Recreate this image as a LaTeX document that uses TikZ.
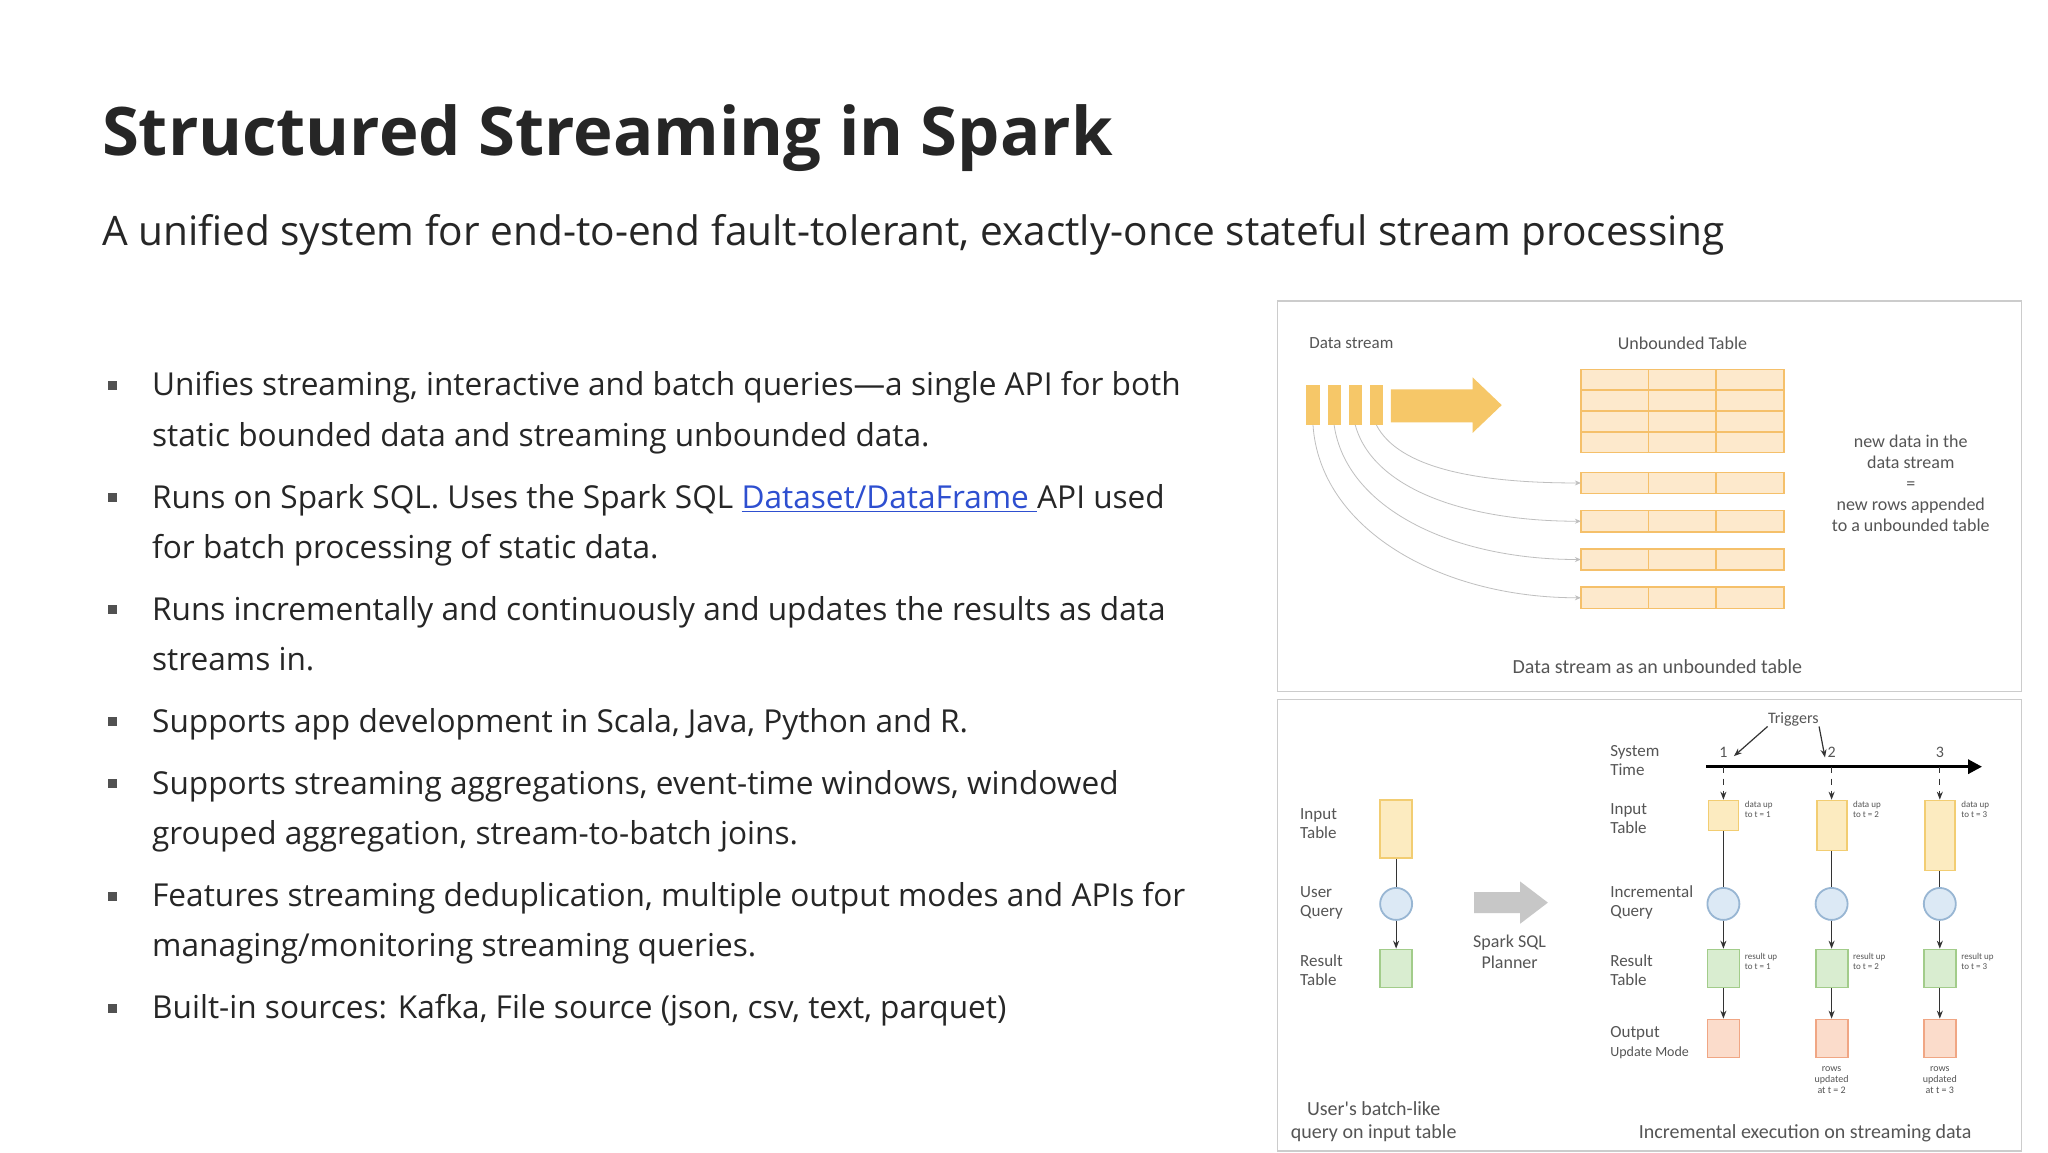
\documentclass[tikz,border=0pt]{standalone}
\usepackage{fontspec}
\setmainfont{Open Sans}
\newfontfamily\dg{Carlito}
\usetikzlibrary{arrows.meta}
\definecolor{txt}{HTML}{262626}
\definecolor{lnk}{HTML}{2E4FD0}
\definecolor{org}{HTML}{F6C768}
\definecolor{tfill}{HTML}{FDE9CC}
\definecolor{tline}{HTML}{F5C06A}
\definecolor{yf}{HTML}{FCEBC0}\definecolor{ys}{HTML}{F2CD72}
\definecolor{bf}{HTML}{DCE9F5}\definecolor{bs}{HTML}{98B6D3}
\definecolor{gf}{HTML}{D9EDD0}\definecolor{gs}{HTML}{A2CC8A}
\definecolor{of}{HTML}{FBDCCB}\definecolor{os}{HTML}{F0A684}
\definecolor{dgray}{HTML}{555555}
\begin{document}
\begin{tikzpicture}[x=0.6598pt,y=-0.6598pt,
  bl/.style={anchor=base west,text=txt,font=\fontsize{15.8}{19}\selectfont,inner sep=0},
  bul/.style={anchor=center,fill=txt!80,minimum size=4.5pt,inner sep=0},
  dl/.style={font=\dg\fontsize{8.5}{9.5}\selectfont,text=dgray,align=left,anchor=west,inner sep=0},
  dc/.style={font=\dg\fontsize{9}{10.5}\selectfont,text=dgray,align=center,inner sep=0},
  sm/.style={font=\dg\fontsize{4.5}{5}\selectfont,text=dgray,align=left,anchor=north west,inner sep=0},
  sml/.style={font=\dg\fontsize{5}{5.5}\selectfont,text=dgray,align=center,anchor=north,inner sep=0},
  capt/.style={font=\dg\fontsize{10}{11.5}\selectfont,text=dgray,align=center,inner sep=0},
  ybox/.style={draw=ys,fill=yf,line width=0.9pt},
  gbox/.style={draw=gs,fill=gf,line width=0.9pt},
  obox/.style={draw=os,fill=of,line width=0.9pt},
  circ/.style={circle,draw=bs,fill=bf,line width=0.9pt,minimum size=16pt,inner sep=0},
  tab/.style={draw=tline,fill=tfill,line width=0.8pt},
  va/.style={-{Stealth[length=4pt,width=3pt]},line width=0.6pt,draw=black!80},
  ca/.style={-{Stealth[length=3pt,width=2.5pt]},line width=0.4pt,draw=black!25}
]
\useasboundingbox[fill=white] (0,0) rectangle (1552,873);
% title
\node[anchor=base west,inner sep=0,text=txt,font=\fontsize{33.5}{40}\selectfont\bfseries] (title) at (77,118) {Structured Streaming in Spark};
\node[anchor=base west,inner sep=0,text=txt,font=\fontsize{20.3}{24}\selectfont] (sub) at (77,186) {A unified system for end-to-end fault-tolerant, exactly-once stateful stream processing};
% bullets
\foreach \y/\n in {300/1,385/2,470/3,555/4,602/5,687/6,772/7}{\node[bul] (b\n) at (85,\y-8) {};}
\node[bl] (t1a) at (115,300) {Unifies streaming, interactive and batch queries---a single API for both};
\node[bl] (t1b) at (115,338) {static bounded data and streaming unbounded data.};
\node[bl] (t2a) at (115,385) {Runs on Spark SQL. Uses the Spark SQL \textcolor{lnk}{\underline{Dataset/DataFrame\ }}API used};
\node[bl] (t2b) at (115,423) {for batch processing of static data.};
\node[bl] (t3a) at (115,470) {Runs incrementally and continuously and updates the results as data};
\node[bl] (t3b) at (115,508) {streams in.};
\node[bl] (t4a) at (115,555) {Supports app development in Scala, Java, Python and R.};
\node[bl] (t5a) at (115,602) {Supports streaming aggregations, event-time windows, windowed};
\node[bl] (t5b) at (115,640) {grouped aggregation, stream-to-batch joins.};
\node[bl] (t6a) at (115,687) {Features streaming deduplication, multiple output modes and APIs for};
\node[bl] (t6b) at (115,725) {managing/monitoring streaming queries.};
\node[bl] (t7a) at (115,772) {Built-in sources: Kafka, File source (json, csv, text, parquet)};
% box 1
\draw[black!20,line width=0.8pt] (968,228) rectangle (1532,524);
\node[dl] (ds) at (992,260) {Data stream};
\node[dc] (ut) at (1275,260) {Unbounded Table};
\foreach \i/\x in {1/990,2/1006,3/1022,4/1038}{\fill[org] (\x,292) rectangle (\x+10,322);
  \coordinate (s\i) at (\x+5,322);}
\fill[org] (1054,295) -- (1116,295) -- (1116,286) -- (1138,307) -- (1116,328) -- (1116,320) -- (1054,320) -- cycle;
\foreach \r in {0,1,2,3}{\foreach \c in {0,1,2}{\draw[tab] (1198+\c*51.3,280+\r*15.75) rectangle ++(51.3,15.75);}}
\foreach \r/\y in {1/358,2/387,3/416,4/445}{
  \foreach \c in {0,1,2}{\draw[tab] (1198+\c*51.3,\y) rectangle ++(51.3,16);}
  \coordinate (r\r) at (1198,\y+8);}
\draw[ca] (s4) .. controls (1060,355) and (1120,366) .. (r1);
\draw[ca] (s3) .. controls (1040,370) and (1110,395) .. (r2);
\draw[ca] (s2) .. controls (1020,385) and (1100,424) .. (r3);
\draw[ca] (s1) .. controls (1000,400) and (1090,453) .. (r4);
\node[dc] (nd) at (1448,366) {new data in the\\data stream\\=\\new rows appended\\to a unbounded table};
\node[capt] (c1) at (1256,505) {Data stream as an unbounded table};
% box 2
\draw[black!20,line width=0.8pt] (968,530) rectangle (1532,872);
\node[dl] (lit) at (985,624) {Input\\Table};
\node[dl] (luq) at (985,684) {User\\Query};
\node[dl] (lrt) at (985,735) {Result\\Table};
\node[ybox,minimum width=16pt,minimum height=29pt,inner sep=0] (bi) at (1058,628) {};
\node[circ] (bq) at (1058,685) {};
\node[gbox,minimum width=16pt,minimum height=19pt,inner sep=0] (br) at (1058,734) {};
\draw[line width=0.6pt,black!80] (bi) -- (bq);
\draw[va] (bq) -- (br);
\fill[black!22] (1117,676) -- (1152,676) -- (1152,668) -- (1173,684) -- (1152,700) -- (1152,692) -- (1117,692) -- cycle;
\node[dc] (ssp) at (1144,721) {Spark SQL\\Planner};
\node[capt] (c2) at (1041,850) {User's batch-like\\query on input table};
% right part
\node[dl] (lst) at (1220,576) {System\\Time};
\node[dl] (lit2) at (1220,620) {Input\\Table};
\node[dl] (liq) at (1220,684) {Incremental\\Query};
\node[dl] (lrt2) at (1220,735) {Result\\Table};
\node[dl,align=left] (lou) at (1220,790) {Output\\{\fontsize{7}{8}\selectfont Update Mode}};
\coordinate (tl0) at (1293,581); \coordinate (tl1) at (1502,581);
\draw[-{Triangle[length=7pt,width=7pt]},line width=1.6pt] (tl0) -- (tl1);
\node[dc,font=\dg\fontsize{8}{9}\selectfont] (trg) at (1359,545) {Triggers};
\foreach \i/\x/\h in {1/1306/15,2/1388/25,3/1470/35}{
  \node[dc,font=\dg\fontsize{8}{9}\selectfont] (n\i) at (\x,570) {\i};
  \coordinate (t\i) at (\x,581);
  \node[ybox,minimum width=15pt,minimum height=\h pt,inner sep=0,anchor=north] (ii\i) at (\x,606) {};
  \node[circ] (iq\i) at (\x,685) {};
  \node[gbox,minimum width=16pt,minimum height=19pt,inner sep=0] (ir\i) at (\x,734) {};
  \node[obox,minimum width=16pt,minimum height=19pt,inner sep=0] (io\i) at (\x,787) {};
  \draw[va,dashed] (t\i) -- (ii\i.north);
  \draw[line width=0.6pt,black!80] (ii\i) -- (iq\i);
  \draw[va] (iq\i) -- (ir\i);
  \draw[va] (ir\i) -- (io\i);
  \node[sm] (du\i) at (\x+16,607) {data up\\to t = \i};
  \node[sm] (ru\i) at (\x+16,722) {result up\\to t = \i};
}
\draw[va] (trg.south west) -- (1314,573);
\draw[va] (trg.south east) -- (1383,574);
\node[sml] (rw2) at (1388,808) {rows\\updated\\at t = 2};
\node[sml] (rw3) at (1470,808) {rows\\updated\\at t = 3};
\node[capt] (c3) at (1368,859) {Incremental execution on streaming data};
\end{tikzpicture}
\end{document}
